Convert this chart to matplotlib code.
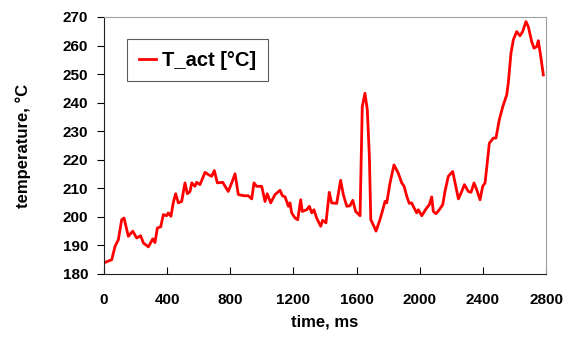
import matplotlib.pyplot as plt

time_ms = [0, 49, 70, 91, 112, 127, 154, 182, 207, 232, 249, 281, 309, 323, 338,
           359, 376, 397, 407, 424, 439, 454, 471, 492, 513, 528, 545, 556, 576,
           587, 608, 640, 661, 682, 699, 718, 752, 787, 809, 830, 851, 887, 914,
           936, 950, 967, 984, 999, 1020, 1034, 1056, 1083, 1115, 1130, 1147,
           1168, 1178, 1189, 1210, 1227, 1246, 1256, 1284, 1301, 1316, 1330,
           1347, 1373, 1385, 1406, 1427, 1442, 1474, 1499, 1516, 1538, 1558,
           1576, 1594, 1622, 1636, 1653, 1668, 1681, 1690, 1710, 1723, 1748,
           1766, 1780, 1791, 1812, 1837, 1864, 1886, 1901, 1918, 1934, 1949,
           1959, 1981, 1991, 2013, 2040, 2061, 2076, 2086, 2103, 2124, 2146,
           2160, 2181, 2209, 2224, 2245, 2266, 2283, 2308, 2325, 2344, 2361,
           2382, 2399, 2414, 2425, 2441, 2466, 2483, 2504, 2526, 2551, 2561,
           2578, 2593, 2614, 2635, 2652, 2673, 2688, 2709, 2724, 2741, 2751,
           2767, 2783]
temp_c = [183.9, 185.0, 189.7, 192.0, 199.0, 199.6, 193.2, 195.0, 192.6, 193.4,
          190.9, 189.5, 192.3, 191.0, 196.1, 196.5, 200.8, 200.4, 201.4, 200.2,
          205.0, 208.1, 204.9, 205.4, 211.9, 208.1, 208.9, 211.9, 210.7, 212.1,
          211.3, 215.6, 214.8, 214.2, 216.2, 211.9, 212.1, 208.9, 211.9, 215.1,
          207.8, 207.4, 207.4, 206.3, 211.9, 210.7, 210.7, 210.7, 205.4, 208.1,
          204.9, 207.8, 209.3, 207.4, 207.0, 203.7, 204.9, 201.4, 199.6, 199.0,
          206.0, 201.9, 202.5, 203.7, 201.4, 202.5, 199.6, 196.7, 198.8, 197.9,
          208.6, 204.9, 204.7, 212.8, 207.8, 203.7, 203.9, 205.8, 201.9, 200.4,
          238.6, 243.3, 237.5, 221.2, 199.0, 196.7, 195.0, 199.0, 202.5, 205.4,
          204.9, 211.9, 218.2, 215.3, 211.9, 210.7, 207.2, 204.7, 204.9, 203.7,
          201.4, 202.5, 200.4, 202.8, 204.3, 207.0, 201.9, 201.1, 202.5, 204.3,
          208.9, 214.2, 215.9, 211.9, 206.3, 208.9, 211.3, 208.9, 208.6, 211.9,
          209.5, 206.0, 210.7, 211.9, 217.6, 225.8, 227.6, 227.6, 234.0, 238.6,
          242.7, 246.8, 257.3, 262.0, 264.9, 263.4, 264.9, 268.4, 266.6, 261.4,
          259.1, 259.6, 261.7, 256.1, 249.7]

plt.rcParams['font.family'] = ['Liberation Sans', 'DejaVu Sans']
plt.rcParams['font.weight'] = 'bold'

fig = plt.figure(figsize=(5.73, 3.37), dpi=100)
ax = fig.add_axes([0.1815, 0.187, 0.7714, 0.7626])

ax.plot(time_ms, temp_c, color='#ff0000', linewidth=2.0, label='T_act [°C]')

ax.set_xlim(0, 2800)
ax.set_ylim(180, 270)
ax.set_xticks(range(0, 2801, 400))
ax.set_yticks(range(180, 271, 10))
ax.tick_params(axis='x', direction='in', length=5, labelsize=11, pad=14)
ax.tick_params(axis='y', direction='out', length=5, labelsize=11, pad=6.5)
for lbl in ax.get_xticklabels() + ax.get_yticklabels():
    lbl.set_fontweight('bold')

ax.set_xlabel('time, ms', fontsize=12, fontweight='bold', labelpad=5)
ax.set_ylabel('temperature, °C', fontsize=12, fontweight='bold', labelpad=23)

for side in ['left', 'bottom']:
    ax.spines[side].set_color('#222222')
for side in ['top', 'right']:
    ax.spines[side].set_color('#a0a0a0')

leg = ax.legend(loc='upper left', bbox_to_anchor=(0.052, 0.914), borderaxespad=0,
                fancybox=False, edgecolor='#333333',
                prop={'size': 14.5, 'weight': 'bold'},
                handlelength=0.85, handletextpad=0.3, borderpad=0.58)
leg.get_frame().set_linewidth(0.8)

fig.savefig('out.png', dpi=100)
